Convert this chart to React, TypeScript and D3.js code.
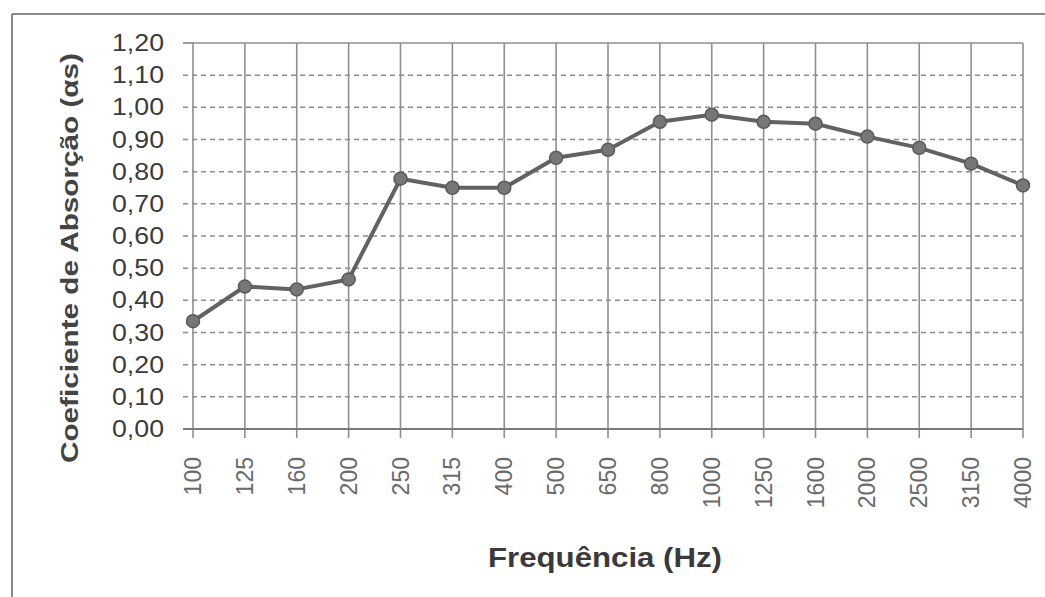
import React from "react";
import * as d3 from "d3";

const frequencies: string[] = ["100", "125", "160", "200", "250", "315", "400", "500", "650", "800", "1000", "1250", "1600", "2000", "2500", "3150", "4000"];
const absorption: number[] = [0.335, 0.443, 0.434, 0.465, 0.778, 0.75, 0.75, 0.843, 0.868, 0.955, 0.977, 0.955, 0.949, 0.909, 0.874, 0.825, 0.757];
const yTicks: number[] = [0, 0.1, 0.2, 0.3, 0.4, 0.5, 0.6, 0.7, 0.8, 0.9, 1.0, 1.1, 1.2];
const yTitle = "Coeficiente de Absorção (αs)";
const xTitle = "Frequência (Hz)";

const W = 1045;
const H = 597;
const plot = { left: 193, right: 1023, top: 43, bottom: 429 };
const FONT = "'Liberation Sans', Arial, Helvetica, sans-serif";

export default function App() {
  const x = d3.scalePoint<string>().domain(frequencies).range([plot.left, plot.right]);
  const y = d3.scaleLinear().domain([0, 1.2]).range([plot.bottom, plot.top]);
  const line = d3
    .line<number>()
    .x((_, i) => x(frequencies[i]) as number)
    .y((d) => y(d));
  const fmt = (v: number) => v.toFixed(2).replace(".", ",");

  return (
    <svg width={W} height={H} style={{ position: "absolute", left: 0, top: 0, background: "#fff" }}>
      {/* outer frame */}
      <line x1={12} y1={14} x2={W} y2={14} stroke="#8a8a8a" strokeWidth={2} />
      <line x1={12} y1={14} x2={12} y2={H} stroke="#8a8a8a" strokeWidth={2} />

      {/* horizontal dashed grid */}
      {yTicks.filter((t) => t > 0 && t < 1.2).map((t) => (
        <line key={"hg" + t} x1={plot.left - 10} x2={plot.right} y1={y(t)} y2={y(t)} stroke="#8c8c8c" strokeWidth={1.5} strokeDasharray="5,4" />
      ))}
      {/* vertical grid */}
      {frequencies.map((f) => (
        <line key={"vg" + f} x1={x(f)} x2={x(f)} y1={plot.top} y2={plot.bottom + 9} stroke="#8f8f8f" strokeWidth={1.6} />
      ))}
      {/* top border */}
      <line x1={plot.left} x2={plot.right} y1={plot.top} y2={plot.top} stroke="#8f8f8f" strokeWidth={1.6} />
      {/* axes */}
      <line x1={plot.left - 10} x2={plot.right} y1={plot.bottom} y2={plot.bottom} stroke="#7a7a7a" strokeWidth={1.8} />
      <line x1={plot.left - 10} x2={plot.left} y1={plot.top} y2={plot.top} stroke="#7a7a7a" strokeWidth={1.5} />

      {/* y tick labels */}
      {yTicks.map((t) => (
        <text key={"yl" + t} x={164} y={y(t)} textAnchor="end" dominantBaseline="central" fontFamily={FONT} fontSize={23} fill="#3a3a3a" textLength={52} lengthAdjust="spacingAndGlyphs">
          {fmt(t)}
        </text>
      ))}

      {/* x tick labels */}
      {frequencies.map((f) => (
        <text key={"xl" + f} transform={`translate(${x(f)},457) rotate(-90)`} textAnchor="end" dominantBaseline="central" fontFamily={FONT} fontSize={23} fill="#6a6a6a">
          {f}
        </text>
      ))}

      {/* series */}
      <path d={line(absorption) || ""} fill="none" stroke="#626262" strokeWidth={4} strokeLinejoin="round" />
      {absorption.map((v, i) => (
        <circle key={"pt" + i} cx={x(frequencies[i])} cy={y(v)} r={6.5} fill="#777" stroke="#5a5a5a" strokeWidth={1.5} />
      ))}

      {/* axis titles */}
      <text transform="translate(78,258) rotate(-90)" textAnchor="middle" fontFamily={FONT} fontSize={24} fontWeight="bold" fill="#444" textLength={410} lengthAdjust="spacingAndGlyphs">
        {yTitle}
      </text>
      <text x={605} y={567} textAnchor="middle" fontFamily={FONT} fontSize={27} fontWeight="bold" fill="#3a3a3a" textLength={234} lengthAdjust="spacingAndGlyphs">
        {xTitle}
      </text>
    </svg>
  );
}
